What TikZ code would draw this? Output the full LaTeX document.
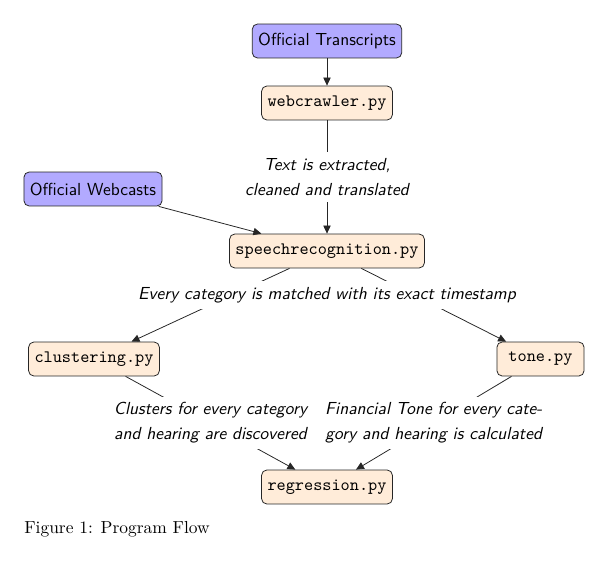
\documentclass[tikz,border=0pt]{standalone}
\usetikzlibrary{arrows.meta}
\definecolor{srcfill}{RGB}{178,170,255}
\definecolor{progfill}{RGB}{255,236,217}
\begin{document}
\begin{tikzpicture}[x=0.5737pt,y=-0.5737pt,
  box/.style={draw=black!85, rounded corners=3pt, minimum height=19.5pt, inner xsep=3.4pt, line width=0.45pt},
  srcbox/.style={box, fill=srcfill, font=\sffamily},
  progbox/.style={box, fill=progfill, font=\ttfamily},
  lbl/.style={fill=white, align=center, font={\sffamily\itshape\fontsize{10}{14.4}\selectfont}},
  conn/.style={draw=black!85, line width=0.45pt},
  arr/.style={conn, -{Triangle[length=4.6pt,width=4.2pt]}}]
\useasboundingbox (0,0) rectangle (608,564);
\node[srcbox] (ot) at (327,41) {Official Transcripts};
\node[progbox] (wc) at (327,103) {webcrawler.py};
\node[srcbox] (ow) at (93,189) {Official Webcasts};
\node[progbox] (sr) at (327,251) {speechrecognition.py};
\node[progbox] (cl) at (94,359) {clustering.py};
\node[progbox, minimum width=50pt] (tn) at (540.5,359) {tone.py};
\node[progbox] (rg) at (327,487) {regression.py};
\draw[arr] (ot) -- (wc);
\draw[arr] (wc) -- node[lbl] (l1) {Text is extracted,\\cleaned and translated} (sr);
\draw[arr] (ow) -- (sr);
\draw[arr] (sr) -- (cl);
\draw[arr] (sr) -- (tn);
\node[lbl] (l2) at (327,295) {Every category is matched with its exact timestamp};
\draw[arr] (cl) -- node[lbl] (l3) {Clusters for every category\\and hearing are discovered} (rg);
\draw[arr] (tn) -- node[lbl] (l4) {Financial Tone for every cate-\\gory and hearing is calculated} (rg);
\node[anchor=base west, inner sep=0pt] (cap) at (24,533) {Figure 1: Program Flow};
\end{tikzpicture}
\end{document}
